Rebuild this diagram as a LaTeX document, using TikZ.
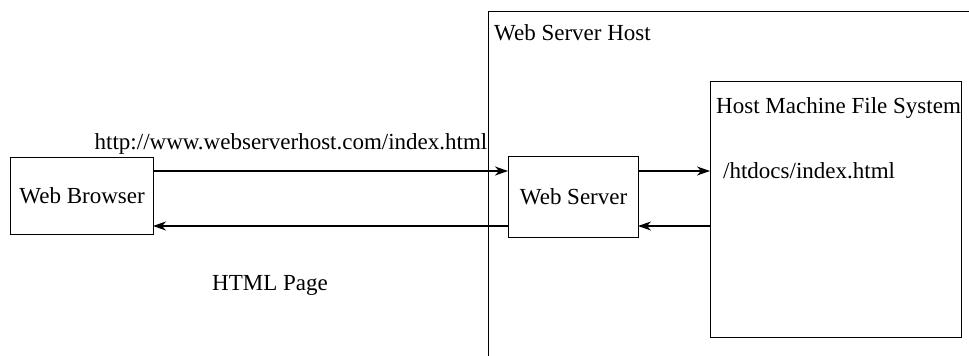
\documentclass[tikz,border=0pt]{standalone}
\usepackage{fontspec}
\setmainfont{Liberation Serif}
\usetikzlibrary{arrows.meta}
\begin{document}
\begin{tikzpicture}[x=1pt,y=-1pt,
  every node/.style={font=\fontsize{23}{26}\selectfont, inner sep=0pt},
  box/.style={draw, line width=1.2pt, anchor=north west},
  conn/.style={line width=1.2pt, -{Stealth[length=13pt,width=9pt,inset=4pt]}},
  lbl/.style={anchor=west}]
\clip (0,0) rectangle (969,356);
\useasboundingbox (0,0) rectangle (969,356);
\node[box, minimum width=520pt, minimum height=380pt] (host) at (488,11) {};
\node[lbl] (hostlbl) at (494,33) {Web Server Host};
\node[box, minimum width=143pt, minimum height=77pt] (browser) at (10,157) {};
\node (browserlbl) at (browser.center) {Web Browser};
\node[box, minimum width=130pt, minimum height=81pt] (server) at (508,156) {};
\node (serverlbl) at (server.center) {Web Server};
\node[box, minimum width=251pt, minimum height=256pt] (fs) at (710,81) {};
\node[lbl] (fslbl) at (716,108) {Host Machine File System};
\node[lbl] (path) at (723,171) {/htdocs/index.html};
\node (url) at (291,144) {http://www.webserverhost.com/index.html};
\node (html) at (270,285) {HTML Page};
\coordinate (b1) at (153,171);
\coordinate (s1) at (508,171);
\coordinate (b2) at (153,226);
\coordinate (s2) at (508,226);
\coordinate (s3) at (638,171);
\coordinate (f3) at (710,171);
\coordinate (s4) at (638,226);
\coordinate (f4) at (710,226);
\draw[conn] (b1) -- (s1);
\draw[conn] (s2) -- (b2);
\draw[conn] (s3) -- (f3);
\draw[conn] (f4) -- (s4);
\end{tikzpicture}
\end{document}
